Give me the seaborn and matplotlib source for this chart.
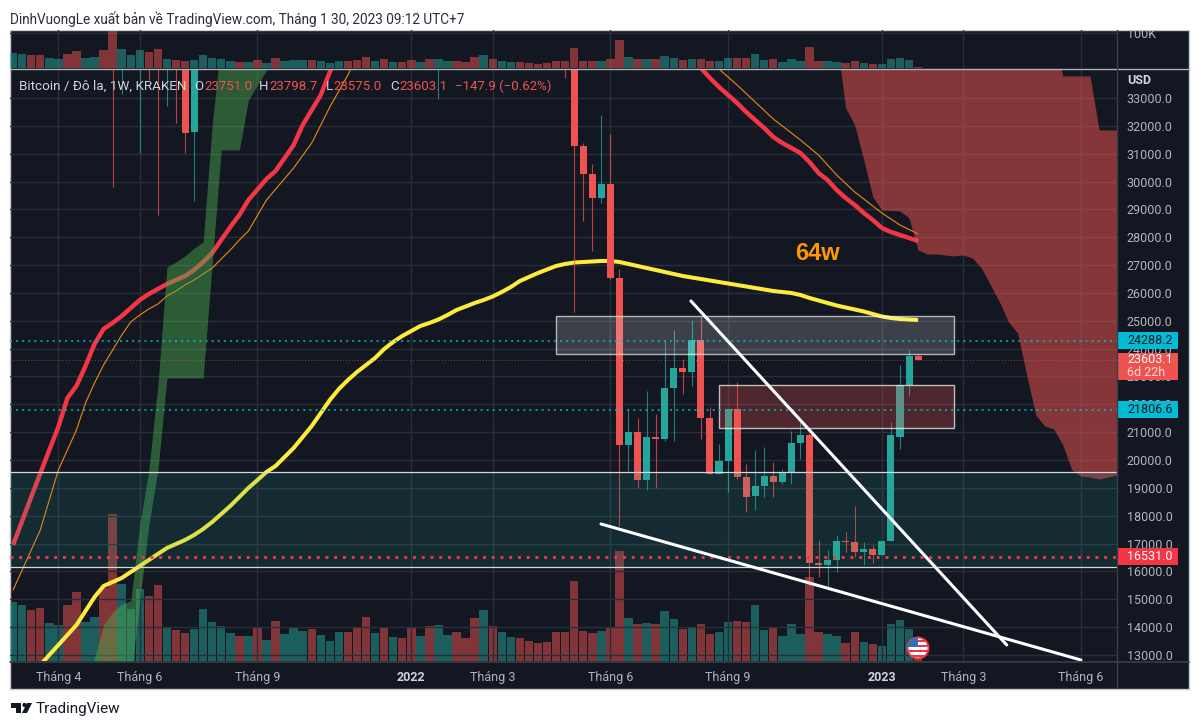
import numpy as np
import pandas as pd
import seaborn as sns
import matplotlib.pyplot as plt
from matplotlib.patches import Rectangle, Circle, Polygon

# weekly candles, week 0 is March 2021
opens = [45200, 50900, 59000, 57400, 55800, 57900, 59700, 56100, 49000, 56600,
         58200, 46400, 34600, 35680, 35800, 39000, 35500, 34700, 35300, 34250,
         31780, 39850, 41000, 44400, 47000, 48800, 47100, 51800, 45100, 48300,
         42700, 48200, 54900, 61500, 60900, 61300, 65500, 66000, 59700, 54700,
         49200, 50100, 46700, 50800, 47700, 41800, 43100, 35100, 38200, 42400,
         42050, 38400, 37700, 38800, 37800, 44500, 46800, 42200, 39700, 39450,
         39000, 38500, 34000, 31287, 30253, 29420, 29912, 26540, 20540, 21007,
         19284, 20828, 20767, 22569, 23316, 23151, 24311, 21492, 19510, 19977,
         21822, 19391, 18700, 19050, 19438, 19223, 19571, 20612, 20889, 16285,
         16232, 16411, 17104, 17057, 16709, 16806, 16580, 17104, 20838, 22706,
         23751.0]
highs = [52600, 61800, 61200, 58400, 59500, 61200, 64900, 57500, 57000, 59500,
         59500, 46600, 37000, 39400, 39500, 41300, 35900, 36600, 35900, 34700,
         40500, 42600, 46000, 47200, 50500, 49500, 52900, 52000, 48900, 48400,
         49500, 56100, 62900, 64500, 63700, 67000, 69000, 66500, 60000, 55500,
         51900, 51900, 51900, 51000, 47900, 44500, 43500, 38900, 45800, 45800,
         42500, 40500, 39500, 42400, 44800, 48200, 47200, 43400, 42900, 40800,
         40300, 39900, 34200, 31400, 30630, 32390, 31708, 26860, 21833, 21510,
         22479, 21654, 24275, 24670, 23628, 25029, 25183, 21905, 20576, 21830,
         22792, 19858, 20371, 20468, 19930, 19679, 21054, 21402, 20971, 17140,
         16770, 17309, 17427, 18361, 17047, 16950, 17110, 21377, 23424, 23941,
         23798.7]
lows = [45000, 50300, 53200, 50400, 55000, 55400, 55000, 47600, 47000, 53200,
        45700, 29815, 33144, 34800, 31025, 33646, 28800, 32713, 32113, 31036,
        29300, 37400, 39200, 43800, 44400, 46400, 46900, 42900, 43400, 40700,
        40800, 47100, 53800, 59500, 59700, 60200, 62800, 55600, 53300, 47000,
        46800, 45500, 45700, 45500, 40700, 39600, 34200, 32964, 37300, 41600,
        37000, 34400, 36300, 37200, 37200, 43400, 41500, 39200, 38600, 38500,
        37600, 33720, 25316, 28583, 27506, 29240, 26500, 17632, 19607, 18996,
        18924, 18996, 20684, 20684, 22382, 22669, 20756, 19499, 19500, 18853,
        19320, 18135, 18206, 18673, 18673, 19140, 19140, 20038, 15513, 15789,
        15452, 15991, 16688, 16519, 16242, 16314, 16575, 17100, 20386, 22310,
        23575.0]
closes = [50900, 59000, 57400, 55800, 57900, 59700, 56100, 49000, 56600, 58200,
          46400, 38800, 35680, 35800, 39000, 35500, 34700, 35300, 34250, 31750,
          39850, 41000, 44400, 47000, 48800, 47100, 51800, 45100, 48300, 42700,
          48200, 54900, 61500, 60900, 61300, 65500, 66000, 59700, 54700, 49200,
          50100, 46700, 50800, 47700, 41800, 43100, 35100, 38200, 42400, 42050,
          38400, 37700, 38800, 37800, 44500, 46800, 42200, 39700, 39450, 39000,
          38500, 34000, 31287, 30253, 29420, 29912, 26540, 20540, 21007, 19284,
          20828, 20767, 22569, 23316, 23151, 24311, 21492, 19510, 19977, 21822,
          19391, 18673, 19050, 19438, 19223, 19571, 20612, 20889, 16285, 16232,
          16411, 17104, 17057, 16709, 16806, 16580, 17104, 20889, 22706, 23747,
          23603.1]
# volume in thousands
volumes = [41.9, 40.0, 36.4, 38.1, 27.4, 25.5, 40.2, 49.5, 27.9, 31.7,
           51.9, 105.2, 54.8, 36.9, 51.4, 46.2, 54.3, 24.5, 22.1, 20.0,
           22.9, 37.1, 27.9, 25.0, 20.0, 18.1, 17.9, 23.6, 14.8, 28.3,
           19.3, 23.6, 21.7, 22.9, 18.6, 14.3, 20.7, 20.7, 24.0, 31.4,
           20.0, 24.3, 17.1, 16.2, 23.6, 18.1, 25.0, 25.7, 18.6, 20.7,
           16.2, 30.5, 36.2, 25.0, 20.7, 17.1, 16.7, 14.0, 12.6, 13.6,
           20.5, 20.7, 57.1, 21.2, 20.2, 21.2, 24.5, 78.8, 31.0, 26.7,
           27.1, 26.7, 35.7, 30.0, 23.1, 24.5, 26.4, 19.5, 20.7, 27.6,
           28.3, 27.9, 40.2, 22.1, 24.5, 17.9, 26.4, 19.0, 60.2, 21.0,
           19.5, 17.6, 12.9, 20.5, 13.3, 12.1, 11.0, 26.2, 29.5, 22.9,
           2.0]

fast_weeks = [0, 2, 4, 5, 6, 7, 8, 9, 10, 11, 12, 13, 14, 15, 16, 17, 18, 19, 20, 21, 22, 23,
              24, 25, 26, 28, 29, 31, 32, 34, 35, 36, 40, 50, 60, 72,
              76, 77, 78, 79, 80, 81, 82, 83, 84, 85, 86, 87, 88, 89, 90, 91, 92, 93, 94, 95,
              96, 97, 98, 99, 100]
fast_ma = [16950, 18673, 20361, 21187, 22228, 22659, 23377, 24167, 24706, 24921, 25172,
           25460, 25747, 25962, 26142, 26321, 26465, 26608, 26824, 27111, 27434, 27901,
           28368, 28799, 29338, 30092, 30379, 31312, 32031, 33108, 33934, 34724,
           38000, 42000, 40000, 35000,
           34077, 33718, 33395, 33108, 32821, 32497, 32210, 31923, 31600, 31384, 31205,
           31025, 30702, 30307, 30056, 29697, 29409, 29158, 28871, 28619, 28332, 28188,
           28081, 27973, 27866]
slow_weeks = [0, 3, 5, 7, 8, 9, 10, 11, 12, 13, 14, 15, 16, 17, 18, 19, 20, 21, 22, 23, 24, 25,
              26, 28, 31, 33, 35, 37, 38, 60, 72,
              78, 80, 82, 84, 86, 87, 89, 91, 93, 95, 96, 98, 100]
slow_ma = [15334, 17488, 19643, 21079, 22049, 22767, 23413, 23951, 24490, 24957, 25208,
           25423, 25603, 25890, 26070, 26285, 26465, 26680, 26896, 27219, 27542, 27901,
           28224, 29338, 30487, 31384, 32677, 33826, 34544, 42000, 36500,
           34041, 33467, 32856, 32246, 31743, 31492, 30953, 30235, 29625, 29122, 28871,
           28440, 28117]
ma64_weeks = list(range(3, 101))
ma64 = [12641, 12999, 13359, 13718, 14077, 14580, 15082, 15477, 15621, 15765,
        15980, 16196, 16411, 16627, 16842, 16986, 17129, 17309, 17524, 17776,
        18062, 18350, 18673, 18996, 19283, 19571, 19786, 20109, 20433, 20828,
        21223, 21689, 22156, 22551, 22874, 23161, 23413, 23664, 23987, 24239,
        24454, 24634, 24813, 24921, 25047, 25208, 25388, 25513, 25639, 25747,
        25873, 26034, 26214, 26429, 26573, 26716, 26842, 26968, 27040, 27093,
        27111, 27129, 27147, 27147, 27111, 27040, 26968, 26896, 26824, 26752,
        26680, 26608, 26554, 26501, 26447, 26393, 26339, 26285, 26232, 26178,
        26124, 26070, 26034, 25998, 25927, 25819, 25729, 25639, 25549, 25477,
        25406, 25334, 25244, 25154, 25100, 25064, 25046, 25029]

green_weeks = list(range(8, 31))
green_a = [12102, 12892, 14077, 14544, 14831, 14939, 17668, 19643, 22695, 26932, 27111,
           27327, 27614, 27829, 32031, 35083, 35083, 35083, 35083, 35083, 35083, 35083, 35083]
green_b = [12102, 12102, 12102, 12102, 12102, 12102, 14975, 17668, 19643, 22946, 22946,
           22946, 22946, 22946, 27075, 31133, 31133, 31133, 32928, 33467, 34005, 34293, 35083]
red_weeks = list(range(91, 123))
red_top = [35083] * 25 + [33790, 33790, 33790, 33790, 31851, 31851, 31851]
red_bottom = [35083, 32641, 32031, 30774, 29445, 28978, 28961, 28943, 28691, 27542, 27399,
              27399, 27363, 27327, 27363, 27255, 26896, 26285, 25675, 24957, 24562, 23054,
              21618, 21222, 21115, 20540, 19643, 19427, 19391, 19319, 19391, 19463]

tick_weeks = [5, 14, 27, 44, 53, 66, 79, 96, 105, 118]
tick_names = ["Tháng 4", "Tháng 6", "Tháng 9", "2022", "Tháng 3", "Tháng 6", "Tháng 9", "2023", "Tháng 3", "Tháng 6"]
price_ticks = list(range(13000, 34000, 1000))

BG = "#131722"
UP = "#26a69a"
DOWN = "#ef5350"
GRID = "#2a2e39"
LABEL = "#b2b5be"

sns.set_theme(style="dark")
plt.rcParams["font.family"] = ["Roboto", "DejaVu Sans"]
plt.rcParams["axes.unicode_minus"] = False

W, H = 1200, 727
fig = plt.figure(figsize=(12, 7.27), dpi=100, facecolor="white")


def px_axes(x0, y0, x1, y1, **kw):
    return fig.add_axes([x0 / W, 1 - y1 / H, (x1 - x0) / W, (y1 - y0) / H], **kw)


weeks = np.arange(len(opens))
o, h, l, c = map(np.array, (opens, highs, lows, closes))
df = pd.DataFrame({"week": weeks, "volume": volumes, "dir": np.where(c >= o, "up", "down")})
candle_colors = np.where(c >= o, UP, DOWN)
xlim = (-0.343, 121.98)
ylim = (12784, 34041)

panel = px_axes(10, 30, 1189, 688.5, zorder=0, facecolor=BG)
panel.set_xticks([])
panel.set_yticks([])
for s in panel.spines.values():
    s.set_color("#c8cbd3")
    s.set_linewidth(1)

# volume, bottom pane and top strip show the same bars
ax_vol = px_axes(10, 69, 1117, 661, zorder=1)
ax_top = px_axes(10, 30, 1117, 68, zorder=1)
for a in (ax_vol, ax_top):
    a.set_facecolor("none")
    sns.barplot(data=df, x="week", y="volume", hue="dir", palette={"up": UP, "down": DOWN},
                native_scale=True, dodge=False, width=0.93, saturation=1, alpha=0.5,
                legend=False, linewidth=0, ax=a)
    a.set_xlim(xlim)
    a.set_xlabel("")
    a.set_ylabel("")
    for s in a.spines.values():
        s.set_visible(False)
ax_vol.set_ylim(0, 422.9)
ax_vol.set_xticks([])
ax_vol.set_yticks([])
ax_top.set_ylim(0, 108.6)
ax_top.set_xticks(tick_weeks)
ax_top.set_xticklabels([])
ax_top.yaxis.tick_right()
ax_top.set_yticks([100])
ax_top.set_yticklabels(["100K"], color=LABEL, fontsize=9)
ax_top.tick_params(length=0, pad=7)
ax_top.grid(True, color=GRID, lw=1)
ax_top.set_axisbelow(True)

# price pane
ax = px_axes(10, 69, 1117, 661, zorder=2)
ax.set_facecolor("none")
ax.grid(True, color=GRID, lw=1, zorder=0.5)
ax.set_axisbelow(True)

sns.lineplot(x=fast_weeks, y=fast_ma, color="#f23645", lw=3.2, ax=ax, zorder=2, solid_capstyle="butt")
sns.lineplot(x=slow_weeks, y=slow_ma, color="#ef8a10", lw=0.8, ax=ax, zorder=2)

# clouds sit over the two averages
ax.fill_between(green_weeks, green_a, green_b, color="#4caf50", alpha=0.45, lw=0, zorder=2.5)
ax.fill_between(red_weeks, red_top, red_bottom, color=DOWN, alpha=0.52, lw=0, zorder=2.5)

sns.lineplot(x=ma64_weeks, y=ma64, color="#ffeb3b", lw=2.9, ax=ax, zorder=2.7, solid_capstyle="butt")

ax.vlines(weeks, l, h, colors=candle_colors, lw=0.8, alpha=0.75, zorder=3)
ax.bar(weeks, np.abs(c - o), bottom=np.minimum(o, c), width=0.78, color=candle_colors, lw=0, zorder=3.1)

# zones
ax.axhspan(16160, 19571, color=UP, alpha=0.14, lw=0, zorder=4)
ax.axhline(19571, color="#d6d8de", lw=0.9, zorder=4.1)
ax.axhline(16160, color="#d6d8de", lw=0.9, zorder=4.1)
ax.add_patch(Rectangle((60, 23808), 44, 25172 - 23808, facecolor=(1, 1, 1, 0.18),
                       edgecolor=(1, 1, 1, 0.65), lw=1, zorder=4))
ax.add_patch(Rectangle((78, 21151), 26, 22695 - 21151, facecolor=(0.94, 0.33, 0.31, 0.27),
                       edgecolor=(1, 1, 1, 0.7), lw=1, zorder=4))

ax.axhline(24288.2, color="#00bcd4", lw=1.1, ls=(0, (1.3, 2.7)), zorder=4.5)
ax.axhline(21806.6, color="#00bcd4", lw=1.1, ls=(0, (1.3, 2.7)), zorder=4.5)
ax.axhline(16531.0, color="#f23645", lw=2.1, ls=(0, (1, 2)), zorder=4.5)
ax.axhline(23603.1, color=DOWN, lw=0.7, ls=(0, (1, 2)), alpha=0.6, zorder=4.5)

# trend lines
ax.plot([74.9, 109.8], [25711, 13359], color="white", lw=2.2, zorder=5, solid_capstyle="round")
ax.plot([64.96, 118], [17704, 12820], color="white", lw=2.2, zorder=5, solid_capstyle="round")

ax.text(88.9, 27420, "64w", color="#ff9800", fontsize=17, fontweight="bold", family=["Liberation Sans", "DejaVu Sans"],
        ha="center", va="center", zorder=6)

ax.set_xlim(xlim)
ax.set_ylim(ylim)
ax.set_xticks(tick_weeks)
ax.set_xticklabels(tick_names, color=LABEL, fontsize=9)
for lab in ax.get_xticklabels():
    if lab.get_text().isdigit():
        lab.set_fontweight("bold")
        lab.set_color("#d1d4dc")
ax.yaxis.tick_right()
ax.set_yticks(price_ticks)
ax.set_yticklabels([f"{p:.1f}" for p in price_ticks], color=LABEL, fontsize=9)
ax.tick_params(axis="x", length=0, pad=7)
ax.tick_params(axis="y", length=0, pad=7)
for s in ax.spines.values():
    s.set_visible(False)

# price tags on the scale
ytrans = ax.get_yaxis_transform()
tag_w = 61 / 1107
text_x = 1 + 10 / 1107
for price, color, txt_color in [(24288.2, "#00bcd4", BG), (21806.6, "#00bcd4", BG), (16531.0, "#f23645", "white")]:
    ax.add_patch(Rectangle((1, price - 300), tag_w, 600, transform=ytrans, clip_on=False,
                           facecolor=color, lw=0, zorder=6))
    ax.text(text_x, price, f"{price:.1f}", transform=ytrans, color=txt_color, fontsize=9,
            va="center", ha="left", zorder=7, clip_on=False)
ax.add_patch(Rectangle((1, 22874), tag_w, 981, transform=ytrans, clip_on=False,
                       facecolor=DOWN, lw=0, zorder=6))
ax.text(text_x, 23603.1, "23603.1", transform=ytrans, color="white", fontsize=9, va="center", zorder=7)
ax.text(text_x, 23140, "6d 22h", transform=ytrans, color="#ffd9d8", fontsize=9, va="center", zorder=7)

# overlay in pixel units for the frame lines, header, legend and logo
top = fig.add_axes([0, 0, 1, 1], zorder=5)
top.set_xlim(0, W)
top.set_ylim(H, 0)
top.axis("off")
top.add_patch(Rectangle((0, 0), W, 29.5, facecolor="white", lw=0))
top.plot([10, 1189], [68.5, 68.5], color="#aeb1ba", lw=1)
top.plot([10, 1189], [661.5, 661.5], color="#3a3e4a", lw=1.2)
top.plot([1117, 1117], [30, 688], color="#3a3e4a", lw=1)

top.text(10, 19, "DinhVuongLe xuất bản về TradingView.com, Tháng 1 30, 2023 09:12 UTC+7",
         color="#2a2e39", fontsize=9.8, va="center")
top.text(1127, 81, "USD", color="#d1d4dc", fontsize=9, fontweight="bold", va="center")

legend_y = 86
top.text(19, legend_y, "Bitcoin / Đô la, 1W, KRAKEN", color="#d1d4dc", fontsize=9.7, va="center")
for x, txt, color in [(194, "O", "#d1d4dc"), (204, "23751.0", DOWN), (259, "H", "#d1d4dc"), (269, "23798.7", DOWN),
                      (326, "L", "#d1d4dc"), (333, "23575.0", DOWN), (390, "C", "#d1d4dc"), (399, "23603.1", DOWN),
                      (455, "−147.9 (−0.62%)", DOWN)]:
    top.text(x, legend_y, txt, color=color, fontsize=9.5, va="center")

# event flag
ring = Circle((918, 648), 10.5, facecolor="white", edgecolor="#f23645", lw=1.4, zorder=6)
top.add_patch(ring)
for y0, col, hgt in [(640, "#f23645", 2.2), (645, "#f23645", 2.2), (650, "#f23645", 2.2), (655, "#f23645", 2.4)]:
    r = Rectangle((907, y0), 22, hgt, facecolor=col, lw=0, zorder=6.1)
    top.add_patch(r)
    r.set_clip_path(ring)
canton = Rectangle((907, 637), 11, 10, facecolor="#2f6fc0", lw=0, zorder=6.2)
top.add_patch(canton)
canton.set_clip_path(ring)

# logo
top.add_patch(Polygon([(11, 703), (21, 703), (21, 713), (16, 713), (16, 707.5), (11, 707.5)], facecolor="#131722", lw=0))
top.add_patch(Circle((24.5, 705), 2.1, facecolor="#131722", lw=0))
top.add_patch(Polygon([(27, 703), (32, 703), (27, 713), (22, 713)], facecolor="#131722", lw=0))
top.text(36, 709, "TradingView", color="#131722", fontsize=11, va="center")

fig.savefig("out.png", dpi=100, facecolor="white")
